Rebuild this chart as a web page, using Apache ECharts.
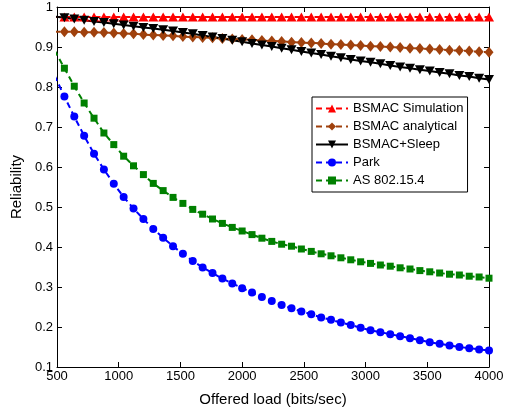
<!DOCTYPE html>
<html>
<head>
<meta charset="utf-8">
<script src="https://cdn.jsdelivr.net/npm/echarts@6/dist/echarts.min.js"></script>
<style>
  html, body { margin: 0; padding: 0; background: #fff; }
  #chart { width: 510px; height: 412px; }
</style>
</head>
<body>
<div id="chart"></div>
<script>
// offered load (bits/sec), the first point sits just left of the axis and gets clipped
const loads = [480, 560, 640, 720, 800, 880, 960, 1040, 1120, 1200, 1280, 1360, 1440, 1520, 1600,
  1680, 1760, 1840, 1920, 2000, 2080, 2160, 2240, 2320, 2400, 2480, 2560, 2640, 2720, 2800,
  2880, 2960, 3040, 3120, 3200, 3280, 3360, 3440, 3520, 3600, 3680, 3760, 3840, 3920, 4000]

const bsmacSim = [0.975, 0.975, 0.975, 0.975, 0.975, 0.975, 0.975, 0.975, 0.975, 0.975, 0.975, 0.975, 0.975, 0.975, 0.975,
  0.975, 0.975, 0.975, 0.975, 0.975, 0.975, 0.975, 0.975, 0.975, 0.975, 0.975, 0.975, 0.975, 0.975, 0.975,
  0.975, 0.975, 0.975, 0.975, 0.975, 0.975, 0.975, 0.975, 0.975, 0.975, 0.975, 0.975, 0.975, 0.975, 0.975]

const bsmacAnalytical = [0.938, 0.938, 0.938, 0.937, 0.937, 0.936, 0.935, 0.934, 0.933, 0.931, 0.930, 0.929, 0.928, 0.926, 0.925,
  0.924, 0.923, 0.921, 0.920, 0.919, 0.918, 0.916, 0.915, 0.914, 0.912, 0.911, 0.910, 0.909, 0.907, 0.906,
  0.905, 0.904, 0.902, 0.901, 0.900, 0.899, 0.897, 0.896, 0.895, 0.894, 0.892, 0.891, 0.890, 0.888, 0.887]

const bsmacSleep = [0.976, 0.973, 0.970, 0.967, 0.964, 0.961, 0.958, 0.955, 0.952, 0.949, 0.946, 0.943, 0.940, 0.936, 0.933,
  0.929, 0.925, 0.921, 0.917, 0.913, 0.909, 0.905, 0.901, 0.897, 0.893, 0.889, 0.885, 0.881, 0.877, 0.873,
  0.869, 0.865, 0.862, 0.858, 0.854, 0.850, 0.847, 0.843, 0.840, 0.836, 0.833, 0.829, 0.826, 0.822, 0.819]

const park = [0.829, 0.776, 0.726, 0.678, 0.633, 0.594, 0.558, 0.525, 0.496, 0.470, 0.445, 0.423, 0.402, 0.383, 0.365,
  0.349, 0.335, 0.321, 0.309, 0.297, 0.286, 0.275, 0.265, 0.255, 0.247, 0.239, 0.232, 0.224, 0.218, 0.211,
  0.205, 0.198, 0.192, 0.187, 0.182, 0.177, 0.172, 0.167, 0.162, 0.158, 0.154, 0.150, 0.147, 0.144, 0.141]

const as802 = [0.892, 0.847, 0.802, 0.760, 0.722, 0.685, 0.656, 0.627, 0.603, 0.581, 0.559, 0.541, 0.524, 0.509, 0.494,
  0.482, 0.470, 0.459, 0.449, 0.440, 0.431, 0.422, 0.414, 0.407, 0.402, 0.395, 0.389, 0.383, 0.378, 0.373,
  0.368, 0.363, 0.359, 0.355, 0.352, 0.348, 0.345, 0.341, 0.338, 0.335, 0.332, 0.330, 0.327, 0.325, 0.322]

const font = 'Liberation Sans, Arial, sans-serif'

function pairs(vals) {
  return loads.map((x, i) => [x, vals[i]])
}

function makeSeries(name, vals, color, symbol, size, dashed, rotate) {
  return {
    name: name,
    type: 'line',
    data: pairs(vals),
    symbol: symbol,
    symbolSize: size,
    symbolRotate: rotate || 0,
    showAllSymbol: true,
    clip: true,
    animation: false,
    lineStyle: { color: color, width: 2, type: dashed ? [6, 4] : 'solid' },
    itemStyle: { color: color, borderWidth: 0 },
  }
}

const chart = echarts.init(document.getElementById('chart'))

const axisLine = { show: true, lineStyle: { color: '#000', width: 1 } }
const tick = { show: true, inside: true, length: 5, lineStyle: { color: '#000' } }

const option = {
  backgroundColor: '#fff',
  animation: false,
  grid: { left: 57, right: 21, top: 7, bottom: 38 },
  legend: {
    orient: 'vertical',
    left: 312,
    top: 97,
    backgroundColor: '#fff',
    borderColor: '#000',
    borderWidth: 1,
    borderRadius: 0,
    padding: [5, 4, 5, 3],
    itemWidth: 32,
    itemHeight: 10,
    itemGap: 5,
    textStyle: { fontFamily: font, fontSize: 13, color: '#000' },
    data: ['BSMAC Simulation', 'BSMAC analytical', 'BSMAC+Sleep', 'Park', 'AS 802.15.4'],
  },
  xAxis: [
    {
      type: 'value',
      min: 500,
      max: 4000,
      interval: 500,
      name: 'Offered load (bits/sec)',
      nameLocation: 'middle',
      nameGap: 25,
      nameTextStyle: { fontFamily: font, fontSize: 15, color: '#000' },
      axisLine: axisLine,
      axisTick: tick,
      axisLabel: { fontFamily: font, fontSize: 13, color: '#000', margin: 3, formatter: v => String(v) },
      splitLine: { show: false },
    },
    {
      type: 'value',
      position: 'top',
      min: 500,
      max: 4000,
      interval: 500,
      axisLine: axisLine,
      axisTick: tick,
      axisLabel: { show: false },
      splitLine: { show: false },
    },
  ],
  yAxis: [
    {
      type: 'value',
      min: 0.1,
      max: 1,
      interval: 0.1,
      name: 'Reliability',
      nameLocation: 'middle',
      nameGap: 31,
      nameTextStyle: { fontFamily: font, fontSize: 15, color: '#000' },
      axisLine: axisLine,
      axisTick: tick,
      axisLabel: { fontFamily: font, fontSize: 13, color: '#000', margin: 4 },
      splitLine: { show: false },
    },
    {
      type: 'value',
      position: 'right',
      min: 0.1,
      max: 1,
      interval: 0.1,
      axisLine: axisLine,
      axisTick: tick,
      axisLabel: { show: false },
      splitLine: { show: false },
    },
  ],
  series: [
    makeSeries('BSMAC Simulation', bsmacSim, '#ff0000', 'triangle', [10, 9], true),
    makeSeries('BSMAC analytical', bsmacAnalytical, '#a0410d', 'diamond', [9, 11], true),
    makeSeries('BSMAC+Sleep', bsmacSleep, '#000000', 'triangle', [10, 9], false, 180),
    makeSeries('Park', park, '#0000ff', 'circle', 8, true),
    makeSeries('AS 802.15.4', as802, '#008000', 'rect', 7, true),
  ],
}

chart.setOption(option)
</script>
</body>
</html>
